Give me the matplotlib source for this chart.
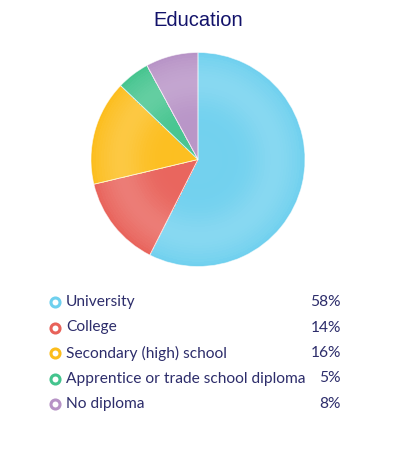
import numpy as np
import matplotlib.pyplot as plt
from matplotlib.colors import to_rgb

categories = ["University", "College", "Secondary (high) school",
              "Apprentice or trade school diploma", "No diploma"]
values = [58, 14, 16, 5, 8]
pct_labels = ["58%", "14%", "16%", "5%", "8%"]
colors = ["#6fd0ee", "#e8625a", "#fcbd1c", "#44c48e", "#b793c6"]

W, H = 396, 453
fig = plt.figure(figsize=(W / 100, H / 100), dpi=100)
fig.patch.set_facecolor("white")

# pie axes, square in pixels
cx, cy, r = 198, 159.5, 107
ax = fig.add_axes([(cx - r) / W, (H - cy - r) / H, 2 * r / W, 2 * r / H])

# radial shading: lighter band around 0.7 r, darker at rim
# full pies stacked from big to small, so no seams between rings
base = np.array([to_rgb(c) for c in colors])
n = 40
radii = np.linspace(1, 1 / n, n)
for rr in radii:
    mid = rr - 0.5 / n
    f = 0.16 * np.exp(-((mid - 0.72) / 0.22) ** 2) + 0.03 * (1 - mid)
    if mid > 0.93:
        f -= 0.04 * (mid - 0.93) / 0.07
    if f < 0:
        cols = np.clip(base * (1 + f), 0, 1)
    else:
        cols = np.clip(base + (1 - base) * f, 0, 1)
    ax.pie(values, colors=cols, startangle=90, counterclock=False,
           radius=rr, wedgeprops=dict(linewidth=0, antialiased=(rr == 1)))
ax.pie(values, colors=["none"] * 5, startangle=90, counterclock=False,
       radius=1, wedgeprops=dict(edgecolor=(1, 1, 1, 0.6), linewidth=0.6))
ax.set_xlim(-1, 1)
ax.set_ylim(-1, 1)
ax.set_aspect("equal")
ax.axis("off")

# title
fig.text(cx / W, 1 - 21 / H, "Education", ha="center", va="center",
         fontsize=14.5, color="#12126a", family="Liberation Sans")

# legend
lg = fig.add_axes([0, 0, 1, 1])
lg.set_xlim(0, W)
lg.set_ylim(H, 0)
lg.axis("off")
row0, step = 302, 25.5
for i, (cat, pct, c) in enumerate(zip(categories, pct_labels, colors)):
    y = row0 + i * step
    lg.plot(55, y, marker="o", ms=6.5, mfc="white", mec=c, mew=2.2)
    lg.text(66, y, cat, ha="left", va="center", fontsize=11.2,
            color="#2d2d6b", family="Lato")
    lg.text(341, y, pct, ha="right", va="center", fontsize=11.2,
            color="#2d2d6b", family="Lato")

fig.savefig("out.png", dpi=100)
